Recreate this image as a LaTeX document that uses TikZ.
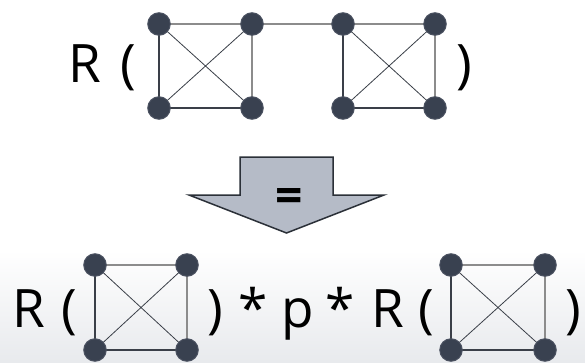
\documentclass[tikz,border=0pt]{standalone}
\usepackage{fontspec}
\setmainfont{Open Sans}
\definecolor{vfill}{HTML}{394150}
\definecolor{vline}{HTML}{4A5160}
\definecolor{edark}{HTML}{3A3F48}
\definecolor{egray}{HTML}{8C8C8C}
\definecolor{afill}{HTML}{B5BBC7}
\definecolor{aline}{HTML}{2B3038}
\definecolor{bgray}{HTML}{E8EAED}
\tikzset{
  vert/.style={circle, fill=vfill, draw=vline, line width=1pt, minimum size=22.5pt, inner sep=0pt},
  glyph/.style={font=\fontsize{53}{57}\selectfont, anchor=base, inner sep=0pt, text=black},
  eg/.style={draw=egray, line width=1.3pt},
  ed/.style={draw=edark, line width=1.1pt},
  ediag/.style={draw=edark, line width=0.8pt},
}
\newcommand{\kfour}[5]{%
  % #1 prefix, #2 x left, #3 x right, #4 y top, #5 y bottom
  \path[eg] (#2,#4) -- (#3,#4);
  \path[ed] (#2,#4) -- (#2,#5);
  \path[eg] (#3,#4) -- (#3,#5);
  \path[ed] (#2,#5) -- (#3,#5);
  \path[ediag] (#2,#4) -- (#3,#5);
  \path[ediag] (#3,#4) -- (#2,#5);
  \node[vert] (#1tl) at (#2,#4) {};
  \node[vert] (#1tr) at (#3,#4) {};
  \node[vert] (#1bl) at (#2,#5) {};
  \node[vert] (#1br) at (#3,#5) {};
}
\begin{document}
\begin{tikzpicture}[x=1pt,y=1pt]
\useasboundingbox (0,0) rectangle (585,362);
\fill[white] (0,0) rectangle (585,362);
\shade[top color=white, bottom color=bgray] (0,0) rectangle (585,112);

% top link between graphs
\draw[eg] (252,338) -- (343,338);
\kfour{a}{159}{252}{338}{254}
\kfour{b}{343}{435}{338}{254}

\node[glyph] (tR) at (85,279) {R};
\node[glyph] (tL) at (128,279) {(};
\node[glyph] (tRp) at (464,279) {)};

% arrow
\path[fill=afill, draw=aline, line width=1.5pt, line join=miter]
  (240,205) -- (333,205) -- (333,167) -- (384,167) -- (286.5,129) -- (189,167) -- (240,167) -- cycle;
\node[font=\fontsize{48}{52}\selectfont\bfseries, anchor=base, inner sep=0pt] (eq) at (289,150) {=};

% bottom line
\kfour{c}{95}{187}{97}{12}
\kfour{d}{451}{545}{97}{12}
\node[glyph] (bR1) at (29,35) {R};
\node[glyph] (bL1) at (69,35) {(};
\node[glyph] (bR1p) at (215,35) {)};
\node[glyph] (bs1) at (253,35) {*};
\node[glyph] (bp) at (298,35) {p};
\node[glyph] (bs2) at (340,35) {*};
\node[glyph] (bR2) at (388,35) {R};
\node[glyph] (bL2) at (426,35) {(};
\node[glyph] (bR2p) at (573,35) {)};
\end{tikzpicture}
\end{document}
